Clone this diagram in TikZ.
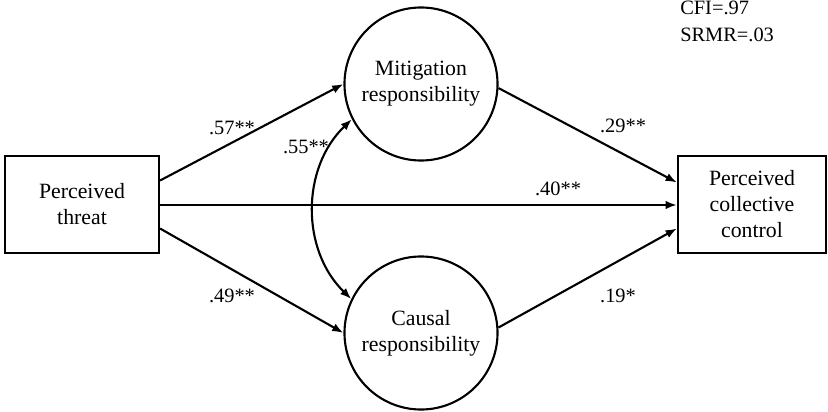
\documentclass[tikz,border=0pt]{standalone}
\usepackage{fontspec}
\setmainfont{Liberation Serif}
\usetikzlibrary{arrows.meta,calc,positioning}

\begin{document}
\begin{tikzpicture}[
        x=0.025cm, y=-0.025cm,
        font=\fontsize{15.5}{18.5}\selectfont,
        >={Latex[length=8pt,width=6pt]},
        obs/.style={rectangle,draw,line width=1.5pt,minimum width=3.85cm,minimum height=2.425cm,align=center,inner sep=2pt},
        latent/.style={circle,draw,line width=1.5pt,minimum size=3.825cm,align=center,inner sep=0pt},
        arrow/.style={->,line width=1.5pt},
        corr/.style={<->,line width=1.5pt},
        coef/.style={font=\fontsize{14.5}{17}\selectfont,inner sep=0pt}
    ]
        \useasboundingbox (0,0) rectangle (828,412);

        \node[obs] (threat) at (82,204.5) {Perceived\\threat};
        \node[obs,minimum width=3.7cm] (control) at (752,204.5) {Perceived\\collective\\control};
        \node[latent] (mitig) at (421,84) {Mitigation\\responsibility};
        \node[latent] (causal) at (421,333) {Causal\\responsibility};

        \draw[arrow] ($(threat.east)+(0,-24)$) -- (mitig.west);
        \draw[arrow] ($(threat.east)+(0,24)$) -- (causal.west);
        \draw[arrow] ($(threat.east)+(0,0.5)$) -- ($(control.west)+(0,0.5)$);
        \draw[arrow] (mitig.-3) -- ($(control.west)+(0,-22)$);
        \draw[arrow] (causal.4) -- ($(control.west)+(0,24)$);
        \draw[corr] (mitig.207) to[bend right=46] (causal.154);

        \node[coef] (b57) at (232,128) {.57**};
        \node[coef] (b55) at (306,147) {.55**};
        \node[coef] (b49) at (232,296) {.49**};
        \node[coef] (b40) at (558,189) {.40**};
        \node[coef] (b29) at (623,126) {.29**};
        \node[coef] (b19) at (618,296) {.19*};

        \node[coef,anchor=base west] (cfi) at (680,15) {CFI=.97};
        \node[coef,anchor=base west] (srmr) at (680,42) {SRMR=.03};
    \end{tikzpicture}
\end{document}
